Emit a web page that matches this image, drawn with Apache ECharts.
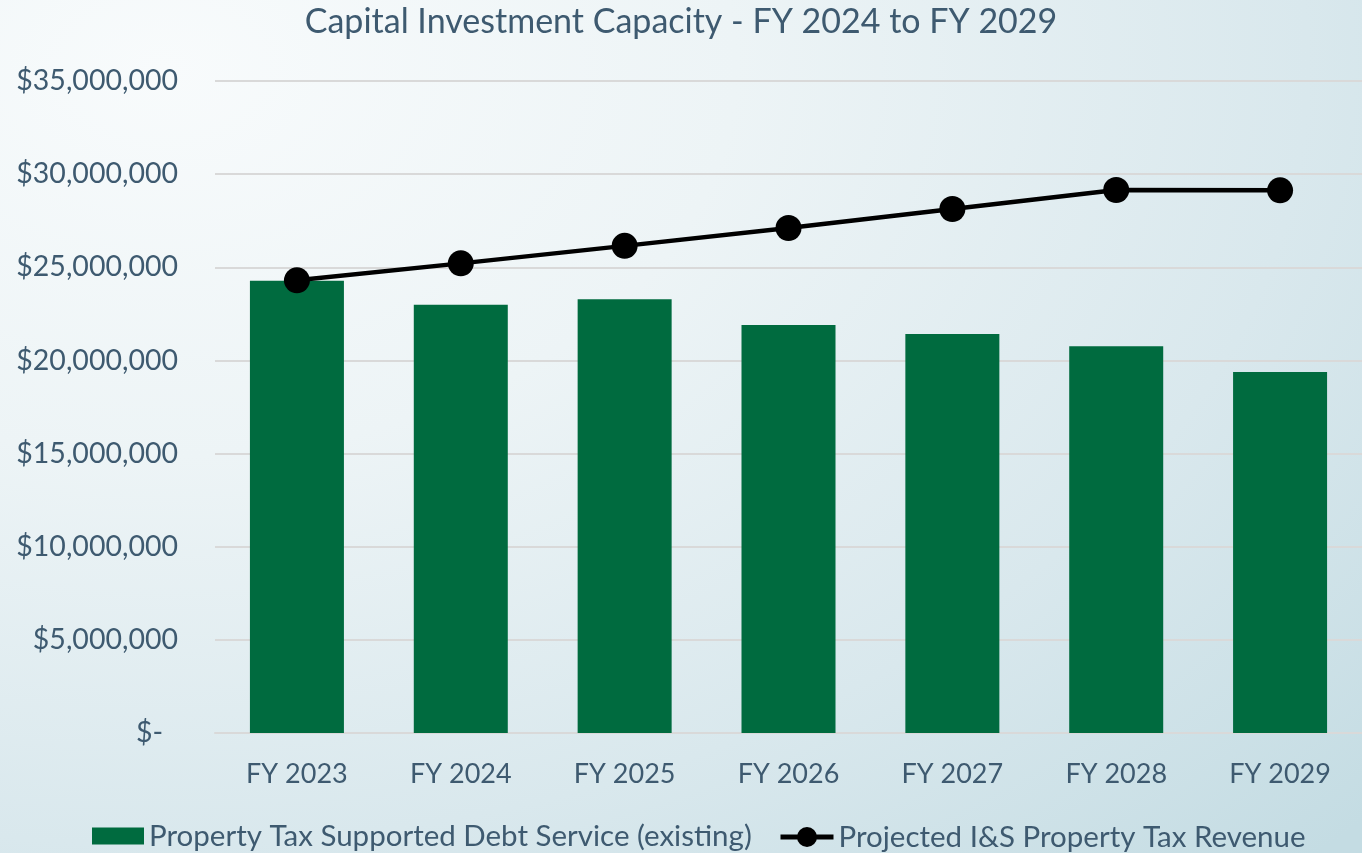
<!DOCTYPE html>
<html>
<head>
<meta charset="utf-8">
<script src="https://cdn.jsdelivr.net/npm/echarts@6/dist/echarts.min.js"></script>
<style>
  html, body { margin: 0; padding: 0; }
  #main {
    width: 1362px;
    height: 853px;
    background: radial-gradient(ellipse 120% 130% at 12% 8%, #f8fbfc 0%, #edf4f6 35%, #d9e8ed 70%, #c4dce3 100%);
  }
</style>
</head>
<body>
<div id="main"></div>
<script>
// chart data
var categories = ['FY 2023', 'FY 2024', 'FY 2025', 'FY 2026', 'FY 2027', 'FY 2028', 'FY 2029'];
var debtService = [24280000, 22990000, 23290000, 21900000, 21420000, 20760000, 19380000];
var taxRevenue = [24300000, 25210000, 26150000, 27110000, 28130000, 29150000, 29130000];

var textColor = '#3e5a70';
var fontName = 'Lato';

var myChart = echarts.init(document.getElementById('main'));

var option = {
  animation: false,
  textStyle: { fontFamily: fontName, color: textColor },
  title: {
    text: 'Capital Investment Capacity - FY 2024 to FY 2029',
    left: 'center',
    top: 0,
    textStyle: { fontFamily: fontName, fontSize: 34, fontWeight: 'normal', color: textColor }
  },
  // two legends so the line icon can be drawn larger than the bar swatch
  legend: [
    {
      left: 87,
      top: 816,
      itemWidth: 52,
      itemHeight: 17,
      icon: 'rect',
      textStyle: { fontFamily: fontName, fontSize: 29.5, color: textColor },
      data: ['Property Tax Supported Debt Service (existing)']
    },
    {
      left: 773,
      top: 817,
      itemWidth: 53,
      itemHeight: 25,
      lineStyle: { width: 5 },
      textStyle: { fontFamily: fontName, fontSize: 29.5, color: textColor },
      data: ['Projected I&S Property Tax Revenue']
    }
  ],
  grid: {
    left: 215,
    right: 0,
    top: 81,
    bottom: 120,
    containLabel: false
  },
  xAxis: {
    type: 'category',
    data: categories,
    axisLine: { lineStyle: { color: '#d9d9d9', width: 2 } },
    axisTick: { show: false },
    axisLabel: { fontFamily: fontName, fontSize: 27, color: textColor, margin: 28 }
  },
  yAxis: {
    type: 'value',
    min: 0,
    max: 35000000,
    interval: 5000000,
    axisLine: { show: false },
    axisTick: { show: false },
    splitLine: { lineStyle: { color: '#d9d9d9', width: 2 } },
    axisLabel: {
      margin: 37,
      fontFamily: fontName,
      fontSize: 28.5,
      color: textColor,
      formatter: function (v) {
        if (v === 0) return '{z|$-}';
        return '$' + v.toLocaleString('en-US');
      },
      rich: {
        z: { fontFamily: fontName, fontSize: 28.5, color: textColor, padding: [0, 15, 0, 0] }
      }
    }
  },
  series: [
    {
      name: 'Property Tax Supported Debt Service (existing)',
      type: 'bar',
      data: debtService,
      barWidth: 94,
      itemStyle: { color: '#006b3f' }
    },
    {
      name: 'Projected I&S Property Tax Revenue',
      type: 'line',
      data: taxRevenue,
      symbol: 'circle',
      symbolSize: 26,
      lineStyle: { color: '#000', width: 4.5 },
      itemStyle: { color: '#000' }
    }
  ]
};

myChart.setOption(option);
</script>
</body>
</html>
